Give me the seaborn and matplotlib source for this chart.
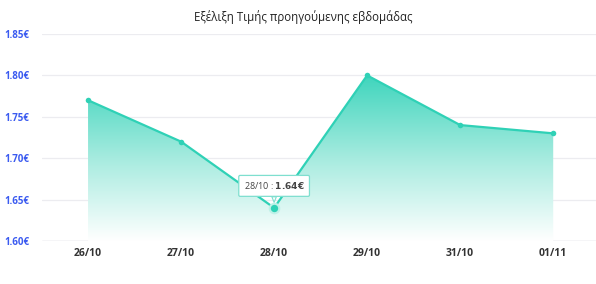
import numpy as np
import pandas as pd
import matplotlib
matplotlib.use("Agg")
import matplotlib.pyplot as plt
import seaborn as sns
from matplotlib.colors import LinearSegmentedColormap

# ---- data ----
dates = ["26/10", "27/10", "28/10", "29/10", "31/10", "01/11"]
prices = [1.77, 1.72, 1.64, 1.80, 1.74, 1.73]
y_ticks = [1.60, 1.65, 1.70, 1.75, 1.80, 1.85]
title = "Εξέλιξη Τιμής προηγούμενης εβδομάδας"
highlight_index = 2

sns.set_theme(style="white")
plt.rcParams['font.family'] = ['Open Sans', 'DejaVu Sans']

line_color = "#2fd1b6"

df = pd.DataFrame({"date": dates, "price": prices, "x": np.arange(len(dates))})

fig = plt.figure(figsize=(5.96, 2.84), dpi=100)
ax = fig.add_axes([42/596, 43/284, 1 - 42/596, (241-34)/284])

ax.set_xlim(-0.495, 5.46)
ax.set_ylim(1.60, 1.85)

# gridlines
for t in y_ticks:
    ax.axhline(t, color="#ececf0", lw=0.9, zorder=0)
ax.axhline(y_ticks[0], color="#d9dbe3", lw=1.0, zorder=1)

# gradient fill under line
poly = ax.fill_between(df["x"], df["price"], 1.60, color="none", lw=0)
grad = np.linspace(0, 1, 256).reshape(-1, 1)
cmap = LinearSegmentedColormap.from_list("g", ["#ffffff", "#a6ebdf", "#3fd5bd"])
im = ax.imshow(grad, extent=[-0.5, 5.5, 1.60, 1.80], origin="lower",
               aspect="auto", cmap=cmap, zorder=1)
path = poly.get_paths()[0]
im.set_clip_path(path, transform=ax.transData)

sns.lineplot(data=df, x="x", y="price", ax=ax, color=line_color, lw=1.6,
             marker="o", markersize=4, markeredgewidth=0, zorder=3)

# highlighted point
hx, hy = df["x"][highlight_index], df["price"][highlight_index]
ax.scatter([hx], [hy], s=70, color="#bff1e8", zorder=4, lw=0)
ax.scatter([hx], [hy], s=28, color=line_color, zorder=5, lw=0)

# tooltip
bbox_props = dict(boxstyle="round,pad=0.55,rounding_size=0.15", fc="white",
                  ec="#7fdfcf", lw=0.9)
ax.annotate("28/10 : $\\mathbf{1.64€}$", xy=(hx, hy), xytext=(0, 22),
            textcoords="offset pixels", ha="center", va="center",
            fontsize=6.5, color="#444444", bbox=bbox_props, zorder=6,
            arrowprops=dict(arrowstyle="wedge,tail_width=0.5", fc="white",
                            ec="#7fdfcf", lw=0.8, shrinkA=0, shrinkB=4))

ax.set_xticks(df["x"])
ax.set_xticklabels(dates, fontsize=7.5, fontweight="bold", color="#333333")
ax.set_yticks(y_ticks)
ax.set_yticklabels([f"{t:.2f}€" for t in y_ticks], fontsize=7,
                   fontweight="bold", color="#3b5bf0")
ax.tick_params(axis="both", length=0)
ax.tick_params(axis="x", pad=5)
ax.tick_params(axis="y", pad=9)
ax.set_xlabel("")
ax.set_ylabel("")
for s in ax.spines.values():
    s.set_visible(False)

fig.text(303/596, 1 - 17/284, title, ha="center", va="center",
         fontsize=8.3, color="#222222")

fig.savefig("out.png", dpi=100)
